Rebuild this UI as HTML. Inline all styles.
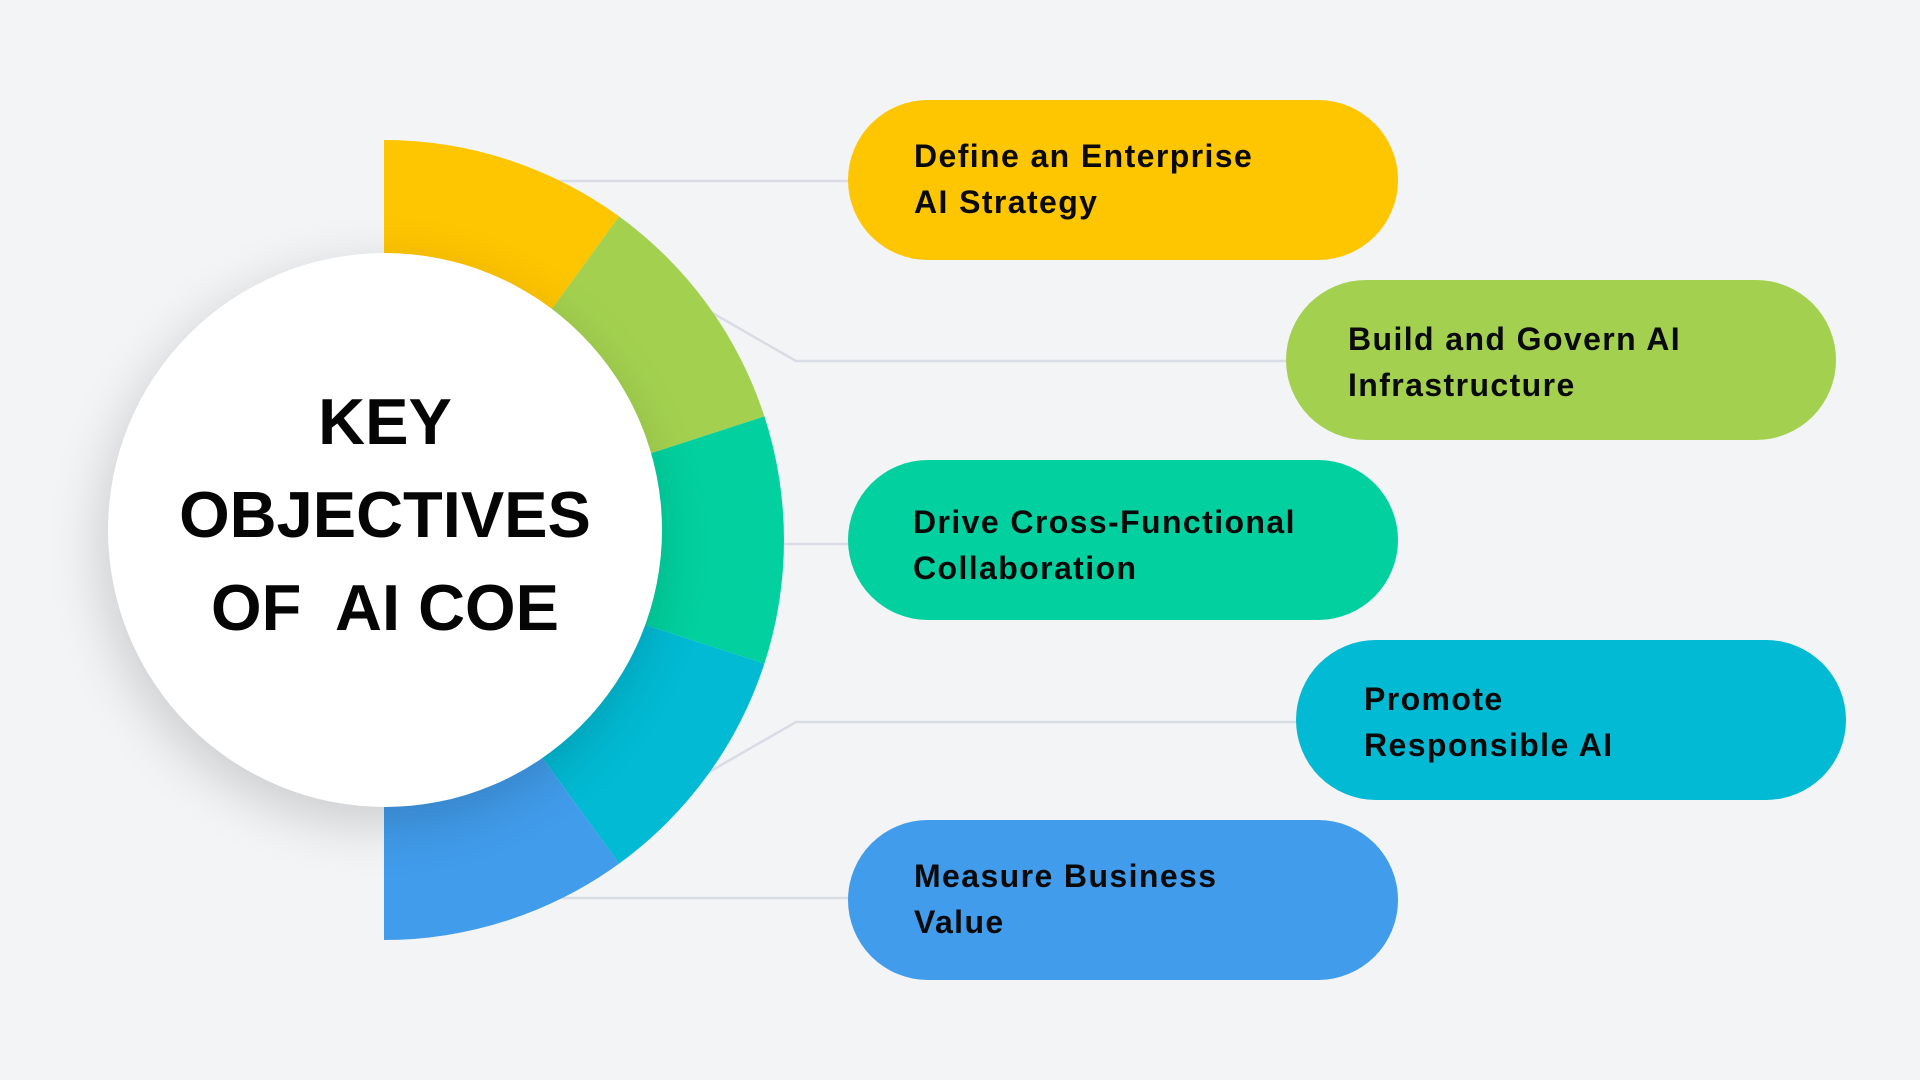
<!DOCTYPE html>
<html>
<head>
<meta charset="utf-8">
<style>
  html,body{margin:0;padding:0;}
  body{width:1920px;height:1080px;background:#f3f4f6;position:relative;overflow:hidden;font-family:"Liberation Sans",Arial,sans-serif;}
  svg.base{position:absolute;left:0;top:0;}
  .circle{position:absolute;left:108px;top:253px;width:554px;height:554px;border-radius:50%;background:#ffffff;box-shadow:-6px 16px 55px rgba(0,0,0,0.17);}
  .title{position:absolute;left:85px;width:600px;top:375px;text-align:center;font-weight:bold;font-size:65px;line-height:93px;color:#050505;white-space:pre;}
  .pill{position:absolute;width:550px;height:160px;border-radius:80px;}
  .pill .t{position:absolute;font-weight:bold;font-size:32px;line-height:46px;letter-spacing:1.4px;color:#0a0a0a;white-space:nowrap;}
</style>
</head>
<body>
<svg class="base" width="1920" height="1080" viewBox="0 0 1920 1080">
  <g stroke="#d8dce4" stroke-width="2.5" fill="none">
    <path d="M384,181 H850"/>
    <path d="M690,300 L796,361 H1288"/>
    <path d="M384,544 H850"/>
    <path d="M690,783 L796,722 H1298"/>
    <path d="M384,898 H850"/>
  </g>
  <path d="M384,540 L384,140 A400,400 0 0 1 619.1,216.4 Z" fill="#fec501"/>
  <path d="M384,540 L619.1,216.4 A400,400 0 0 1 764.4,416.4 Z" fill="#a3d14f"/>
  <path d="M384,540 L764.4,416.4 A400,400 0 0 1 764.4,663.6 Z" fill="#02d09e"/>
  <path d="M384,540 L764.4,663.6 A400,400 0 0 1 619.1,863.6 Z" fill="#02bad3"/>
  <path d="M384,540 L619.1,863.6 A400,400 0 0 1 384,940 Z" fill="#419ceb"/>
</svg>

<div class="circle"></div>
<div class="title">KEY
OBJECTIVES
OF  AI COE</div>

<div class="pill" style="left:848px;top:100px;background:#fec501;">
  <div class="t" style="left:66px;top:33px;">Define an Enterprise<br>AI Strategy</div>
</div>
<div class="pill" style="left:1286px;top:280px;background:#a3d14f;">
  <div class="t" style="left:62px;top:36px;">Build and Govern AI<br>Infrastructure</div>
</div>
<div class="pill" style="left:848px;top:460px;background:#02d09e;">
  <div class="t" style="left:65px;top:39px;">Drive Cross-Functional<br>Collaboration</div>
</div>
<div class="pill" style="left:1296px;top:640px;background:#02bad3;">
  <div class="t" style="left:68px;top:36px;">Promote<br>Responsible AI</div>
</div>
<div class="pill" style="left:848px;top:820px;background:#419ceb;">
  <div class="t" style="left:66px;top:33px;">Measure Business<br>Value</div>
</div>
</body>
</html>
